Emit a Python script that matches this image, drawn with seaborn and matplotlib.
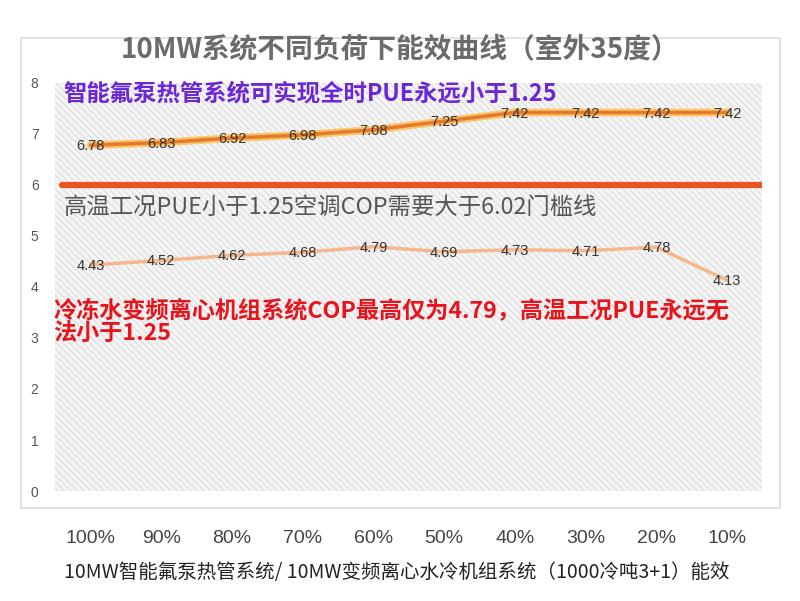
import matplotlib
matplotlib.use("Agg")
import matplotlib.pyplot as plt
import seaborn as sns
import pandas as pd
from matplotlib.patches import Rectangle

loads = ["100%", "90%", "80%", "70%", "60%", "50%", "40%", "30%", "20%", "10%"]
heatpipe_cop = [6.78, 6.83, 6.92, 6.98, 7.08, 7.25, 7.42, 7.42, 7.42, 7.42]
chiller_cop = [4.43, 4.52, 4.62, 4.68, 4.79, 4.69, 4.73, 4.71, 4.78, 4.13]
threshold = 6.02
y_ticks = [0, 1, 2, 3, 4, 5, 6, 7, 8]

title = "10MW系统不同负荷下能效曲线（室外35度）"
x_label = "10MW智能氟泵热管系统/ 10MW变频离心水冷机组系统（1000冷吨3+1）能效"
note_top = "智能氟泵热管系统可实现全时PUE永远小于1.25"
note_mid = "高温工况PUE小于1.25空调COP需要大于6.02门槛线"
note_low = "冷冻水变频离心机组系统COP最高仅为4.79，高温工况PUE永远无\n法小于1.25"

sns.set_theme(style="white")
plt.rcParams["font.family"] = ["Noto Sans CJK SC", "DejaVu Sans"]

df = pd.DataFrame({"load": loads, "heatpipe": heatpipe_cop, "chiller": chiller_cop})
df["pos"] = range(len(loads))

fig = plt.figure(figsize=(8, 6.01), dpi=100)
# card
card = Rectangle((0.026, 0.155), 0.949, 0.782, transform=fig.transFigure,
                 facecolor="white", edgecolor="#dddddd", lw=1.2, zorder=-10)
fig.patches.append(card)
ax = fig.add_axes([0.069, 0.183, 0.884, 0.679])
ax.set_zorder(1)
ax.set_facecolor("none")
ax.add_patch(Rectangle((0, 0), 1, 1, transform=ax.transAxes, facecolor="#f5f5f5",
                       edgecolor="#e0e0e0", hatch="\\\\\\\\\\", lw=0, zorder=0))
for s in ax.spines.values():
    s.set_visible(False)

sns.lineplot(data=df, x="pos", y="heatpipe", ax=ax, color="#f6c56a", lw=5.5, zorder=3)
sns.lineplot(data=df, x="pos", y="heatpipe", ax=ax, color="#e8792a", lw=2.5, zorder=4)
sns.lineplot(data=df, x="pos", y="chiller", ax=ax, color="#f5b78e", lw=2.5, zorder=4)

ax.axhline(threshold - 0.02, xmin=0.01, xmax=1.0, color="#ea5420", lw=4.5, zorder=5)

for i, (a, b) in enumerate(zip(heatpipe_cop, chiller_cop)):
    ax.text(i, a - 0.02, f"{a:.2f}", ha="center", va="center", fontsize=10.5,
            color="#333333", family="Liberation Sans", zorder=6)
    ax.text(i, b - 0.02, f"{b:.2f}", ha="center", va="center", fontsize=10.5,
            color="#333333", family="Liberation Sans", zorder=6)

ax.set_xlim(-0.5, len(loads) - 0.5)
ax.set_ylim(0, 8)
ax.set_yticks(y_ticks)
ax.set_yticklabels([str(v) for v in y_ticks], fontsize=10, color="#555555", family="Liberation Sans")
ax.set_xticks(range(len(loads)))
ax.set_xticklabels(loads, fontsize=14, color="#444444", family="Liberation Sans")
ax.tick_params(axis="x", length=0, pad=28)
ax.tick_params(axis="y", length=0, pad=12)
ax.set_xlabel(x_label, fontsize=14, color="#222222")
ax.xaxis.set_label_coords(0.012, -0.175)
ax.xaxis.label.set_ha("left")
ax.set_ylabel("")

ax.text(0.012, 0.975, note_top, transform=ax.transAxes, fontsize=16.8, fontweight="bold",
        color="#6b27d6", ha="left", va="center", zorder=6)
ax.text(0.012, 0.694, note_mid, transform=ax.transAxes, fontsize=16.8,
        color="#555555", ha="left", va="center", zorder=6)
ax.text(-0.003, 0.413, note_low, transform=ax.transAxes, fontsize=16.7, fontweight="bold",
        color="#e8141c", ha="left", va="center", linespacing=1.05, zorder=6)

fig.text(0.5, 0.918, title, ha="center", va="center", fontsize=20, fontweight="bold",
         color="#6b6b6b")

fig.savefig("out.png", dpi=100)
